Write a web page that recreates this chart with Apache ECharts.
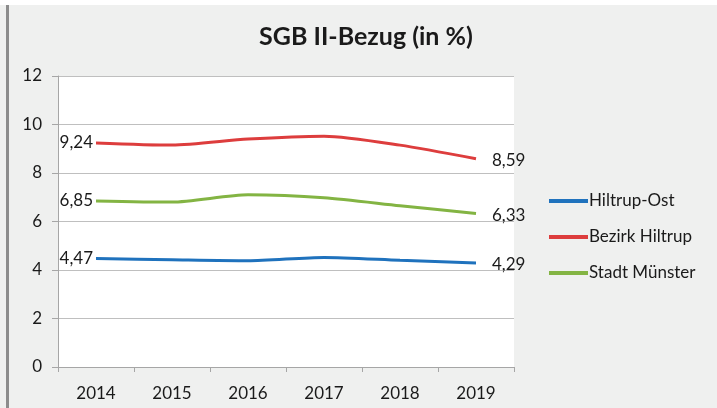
<!DOCTYPE html>
<html>
<head>
<meta charset="utf-8">
<script src="https://cdn.jsdelivr.net/npm/echarts@6/dist/echarts.min.js"></script>
<style>
  html, body { margin: 0; padding: 0; background: #eff0ef; }
  #chart { width: 717px; height: 408px; }
</style>
</head>
<body>
<div id="chart"></div>
<script>
const years = ['2014', '2015', '2016', '2017', '2018', '2019']
const hiltrupOst = [4.47, 4.42, 4.38, 4.52, 4.4, 4.29]
const bezirkHiltrup = [9.24, 9.15, 9.4, 9.52, 9.15, 8.59]
const stadtMuenster = [6.85, 6.8, 7.1, 6.98, 6.65, 6.33]

const font = 'Lato'

// label only the first and the last point, like the original
function endLabels(values) {
  return values.map((v, i) => {
    if (i === 0) return { value: v, label: { show: true, position: 'left', distance: 3 } }
    if (i === values.length - 1) return { value: v, label: { show: true, position: 'right', distance: 16, offset: [0, 2] } }
    return v
  })
}

function lineSeries(name, values, color) {
  return {
    name,
    type: 'line',
    data: endLabels(values),
    symbol: 'circle',
    symbolSize: 0,
    showSymbol: true,
    smooth: 0.25,
    lineStyle: { color, width: 3 },
    itemStyle: { color },
    label: {
      show: false,
      formatter: (p) => p.value.toFixed(2).replace('.', ','),
      color: '#1a1a1a',
      fontFamily: font,
      fontSize: 17,
    },
  }
}

const chart = echarts.init(document.getElementById('chart'))
chart.setOption({
  backgroundColor: '#eff0ef',
  animation: false,
  title: {
    text: 'SGB II-Bezug (in %)',
    left: 361,
    textAlign: 'center',
    top: 19,
    textStyle: { fontFamily: font, fontSize: 25, fontWeight: 'bold', color: '#1a1a1a' },
  },
  graphic: [
    { type: 'rect', shape: { x: 0, y: 0, width: 717, height: 5 }, style: { fill: '#ffffff' } },
    { type: 'rect', shape: { x: 6, y: 5, width: 3, height: 403 }, style: { fill: '#8c8c8c' } },
  ],
  legend: {
    orient: 'vertical',
    left: 544,
    top: 186,
    icon: 'rect',
    itemWidth: 39,
    itemHeight: 4,
    itemGap: 16,
    textStyle: { fontFamily: font, fontSize: 17, color: '#1a1a1a', lineHeight: 20, padding: [0, 0, 0, -4] },
    data: ['Hiltrup-Ost', 'Bezirk Hiltrup', 'Stadt Münster'],
  },
  grid: {
    left: 58,
    right: 203,
    top: 76,
    bottom: 41,
    show: true,
    backgroundColor: '#ffffff',
    borderWidth: 0,
  },
  xAxis: {
    type: 'category',
    data: years,
    boundaryGap: true,
    axisLine: { lineStyle: { color: '#a6a6a6' } },
    axisTick: { show: true, length: 5, lineStyle: { color: '#a6a6a6' } },
    axisLabel: { fontFamily: font, fontSize: 17, color: '#1a1a1a', margin: 18 },
  },
  yAxis: {
    type: 'value',
    min: 0,
    max: 12,
    interval: 2,
    axisLine: { show: true, lineStyle: { color: '#a6a6a6' } },
    axisTick: { show: true, length: 6, lineStyle: { color: '#a6a6a6' } },
    axisLabel: { fontFamily: font, fontSize: 17, color: '#1a1a1a', margin: 16 },
    splitLine: { lineStyle: { color: '#bfbfbf' } },
  },
  series: [
    lineSeries('Hiltrup-Ost', hiltrupOst, '#1f72bd'),
    lineSeries('Bezirk Hiltrup', bezirkHiltrup, '#dd3d3d'),
    lineSeries('Stadt Münster', stadtMuenster, '#83b443'),
  ],
})
</script>
</body>
</html>
